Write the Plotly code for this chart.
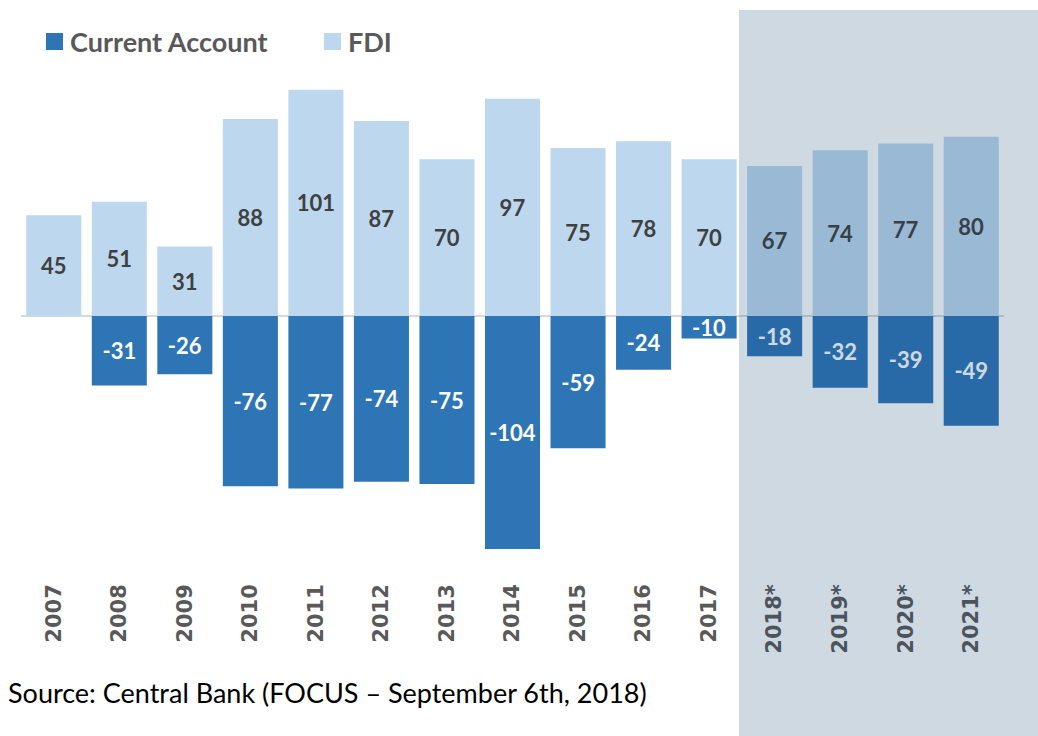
import plotly.graph_objects as go

years = ["2007", "2008", "2009", "2010", "2011", "2012", "2013", "2014",
         "2015", "2016", "2017", "2018*", "2019*", "2020*", "2021*"]
fdi = [45, 51, 31, 88, 101, 87, 70, 97, 75, 78, 70, 67, 74, 77, 80]
current_account = [None, -31, -26, -76, -77, -74, -75, -104, -59, -24, -10,
                   -18, -32, -39, -49]

CA_COLOR = "#2e75b6"
FDI_COLOR = "#bdd7ee"

W, H = 1038, 736
PLOT_L, PLOT_R = 21, 1004
PLOT_T, PLOT_B = 70, 579
ZERO_Y = 316
PX_PER_UNIT = 2.24

y_top = (ZERO_Y - PLOT_T) / PX_PER_UNIT
y_bottom = -(PLOT_B - ZERO_Y) / PX_PER_UNIT
plot_w = PLOT_R - PLOT_L
plot_h = PLOT_B - PLOT_T


def px(x):
    return (x - PLOT_L) / plot_w


def py(y):
    return (PLOT_B - y) / plot_h


fig = go.Figure()
fig.add_trace(
    go.Bar(
        x=years,
        y=current_account,
        name="Current Account",
        marker={"color": CA_COLOR, "line": {"width": 0}},
        text=[f"{v}" if v is not None else "" for v in current_account],
        textposition="inside",
        insidetextanchor="middle",
        constraintext="none",
        textfont={"family": "Lato", "size": 22, "color": "#ffffff", "weight": "bold"},
    )
)
fig.add_trace(
    go.Bar(
        x=years,
        y=fdi,
        name="FDI",
        marker={"color": FDI_COLOR, "line": {"width": 0}},
        text=[f"{v}" for v in fdi],
        textposition="inside",
        insidetextanchor="middle",
        constraintext="none",
        textfont={"family": "Lato", "size": 22, "color": "#404040", "weight": "bold"},
    )
)

# forecast shading over 2018*-2021*
fig.add_shape(
    type="rect",
    xref="paper",
    yref="paper",
    x0=px(739),
    x1=px(W + 5),
    y0=py(H + 5),
    y1=py(10),
    fillcolor="rgba(15,65,110,0.2)",
    line={"width": 0},
    layer="above",
)

# legend drawn by hand (square + label)
for name, color, sq_x, text_x in [
    ("Current Account", CA_COLOR, 46, 68),
    ("FDI", FDI_COLOR, 324, 346),
]:
    fig.add_shape(
        type="rect",
        xref="paper",
        yref="paper",
        x0=px(sq_x),
        x1=px(sq_x + 17),
        y0=py(50),
        y1=py(33),
        fillcolor=color,
        line={"width": 0},
    )
    fig.add_annotation(
        text=f"<b>{name}</b>",
        xref="paper",
        yref="paper",
        x=px(text_x),
        y=py(41),
        xanchor="left",
        yanchor="middle",
        showarrow=False,
        font={"family": "Lato", "size": 27, "color": "#595959"},
    )

fig.add_annotation(
    text="Source: Central Bank (FOCUS – September 6th, 2018)",
    xref="paper",
    yref="paper",
    x=px(6),
    y=py(692),
    xanchor="left",
    yanchor="middle",
    showarrow=False,
    font={"family": "Lato", "size": 27, "color": "#000000"},
)

fig.update_layout(
    width=W,
    height=H,
    barmode="relative",
    bargap=0.16,
    plot_bgcolor="white",
    paper_bgcolor="white",
    margin={"l": PLOT_L, "r": W - PLOT_R, "t": PLOT_T, "b": H - PLOT_B, "autoexpand": False},
    showlegend=False,
    xaxis={
        "type": "category",
        "range": [-0.5, len(years) - 0.5],
        "showline": False,
        "showgrid": False,
        "zeroline": False,
        "tickangle": -90,
        "ticks": "",
        "ticklabelstandoff": 0,
        "tickfont": {"family": "DejaVu Sans", "size": 21, "color": "#595959", "weight": "bold"},
    },
    yaxis={
        "range": [y_bottom, y_top],
        "showgrid": False,
        "showticklabels": False,
        "zeroline": True,
        "zerolinecolor": "#d9d9d9",
        "zerolinewidth": 2,
    },
)

fig.write_html(
    "out.html",
    config={"displayModeBar": False},
    post_script="document.body.style.margin = '0';",
)
